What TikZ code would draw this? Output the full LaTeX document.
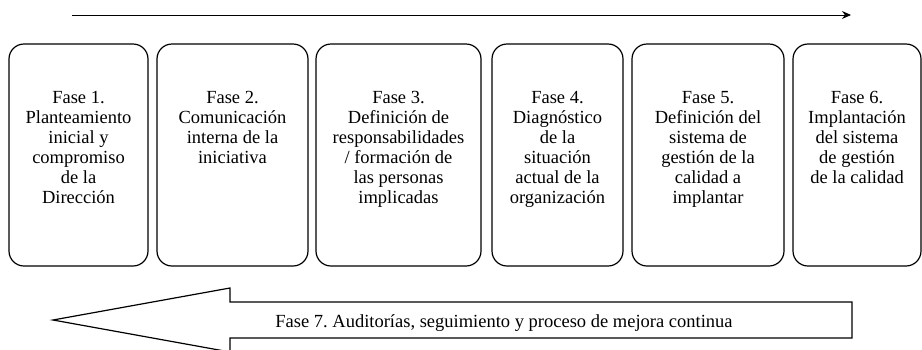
\documentclass[tikz,border=0pt]{standalone}
\usepackage{fontspec}
\setmainfont{Liberation Serif}
\usetikzlibrary{positioning,arrows.meta}

\tikzset{
  fase/.style={draw, line width=1.2pt, rounded corners=15pt, minimum height=222pt, inner sep=0pt},
  fasetext/.style={anchor=north, inner sep=0pt, align=center, font=\fontsize{18.5}{20}\selectfont},
  flecha/.style={draw, line width=1.2pt, line join=miter}
}

\begin{document}
\frenchspacing
\begin{tikzpicture}[x=1pt,y=-1pt]
        \useasboundingbox (0,0) rectangle (922,349);

        % Flecha superior
        \coordinate (ini) at (72,15);
        \coordinate (fin) at (851,15);
        \draw[line width=1pt, -{Stealth[length=9pt,width=8pt]}] (ini) -- (fin);

        % Fases
        \node[fase, minimum width=139pt] (f1) at (78.5,155) {};
        \node[fase, minimum width=151pt] (f2) at (232.5,155) {};
        \node[fase, minimum width=165pt] (f3) at (398.5,155) {};
        \node[fase, minimum width=131pt] (f4) at (557.5,155) {};
        \node[fase, minimum width=152pt] (f5) at (708,155) {};
        \node[fase, minimum width=128pt] (f6) at (857,155) {};

        % Etiquetas
        \node[fasetext, below=48pt of f1.north] (t1) {Fase 1.\\Planteamiento\\inicial y\\compromiso\\de la\\Dirección};
        \node[fasetext, below=48pt of f2.north] (t2) {Fase 2.\\Comunicación\\interna de la\\iniciativa};
        \node[fasetext, below=48pt of f3.north] (t3) {Fase 3.\\Definición de\\responsabilidades\\/ formación de\\las personas\\implicadas};
        \node[fasetext, below=48pt of f4.north] (t4) {Fase 4.\\Diagnóstico\\de la\\situación\\actual de la\\organización};
        \node[fasetext, below=48pt of f5.north] (t5) {Fase 5.\\Definición del\\sistema de\\gestión de la\\calidad a\\implantar};
        \node[fasetext, below=48pt of f6.north] (t6) {Fase 6.\\Implantación\\del sistema\\de gestión\\de la calidad};

        % Flecha inferior (Fase 7)
        \draw[flecha] (53,320) -- (230,288) -- (230,302) -- (852,302)
            -- (852,338) -- (230,338) -- (230,352) -- cycle;
        \node[anchor=base, inner sep=0pt, font=\fontsize{18.5}{20}\selectfont] (f7) at (504,327)
            {Fase 7. Auditorías, seguimiento y proceso de mejora continua};
\end{tikzpicture}
\end{document}
